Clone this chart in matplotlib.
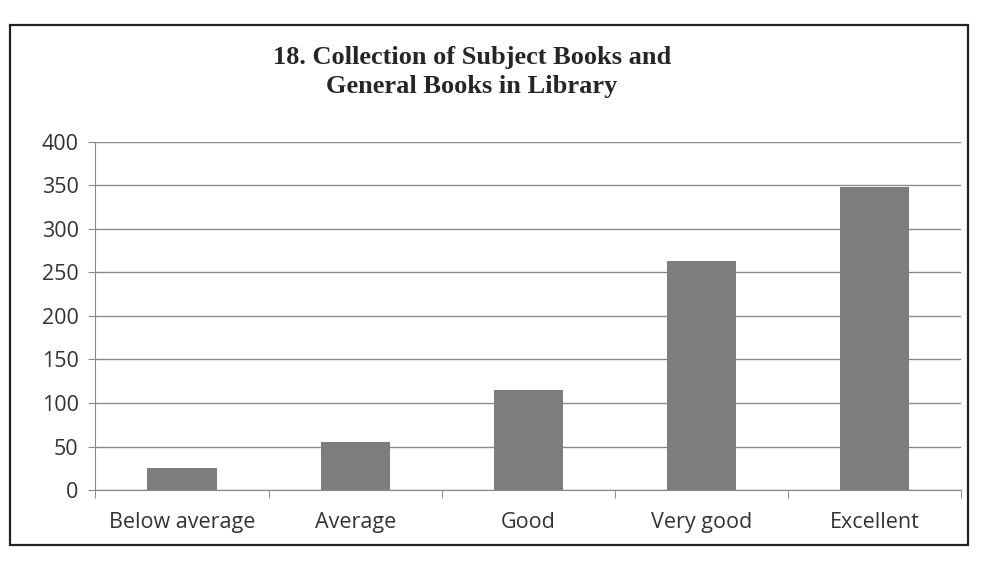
import matplotlib
matplotlib.use("Agg")
import matplotlib.pyplot as plt
from matplotlib.patches import Rectangle

categories = ["Below average", "Average", "Good", "Very good", "Excellent"]
values = [25, 55, 115, 263, 348]
y_ticks = [0, 50, 100, 150, 200, 250, 300, 350, 400]

fig = plt.figure(figsize=(9.83, 5.62), dpi=100)
fig.patch.set_facecolor("white")

# outer chart frame
fig.patches.append(Rectangle((0.01, 0.03), 0.975, 0.925, transform=fig.transFigure,
                             fill=False, edgecolor="#222222", linewidth=1.6))

ax = fig.add_axes([0.097, 0.128, 0.881, 0.62])
ax.bar(range(len(categories)), values, width=0.4, color="#7d7d7d", zorder=3)

ax.set_ylim(0, 400)
ax.set_xlim(-0.5, len(categories) - 0.5)
ax.set_yticks(y_ticks)
ax.set_yticklabels([str(v) for v in y_ticks], fontsize=15.5, family="Open Sans", color="#333333")
ax.set_xticks(range(len(categories)))
ax.set_xticklabels(categories, fontsize=15.5, family="Open Sans", color="#333333")

# category separator ticks on x axis
ax.set_xticks([i + 0.5 for i in range(-1, len(categories))], minor=True)
ax.tick_params(axis="x", which="major", length=0, pad=16)
ax.tick_params(axis="x", which="minor", length=6, color="#777777", direction="out")
ax.tick_params(axis="y", length=5, color="#888888", pad=7)

ax.grid(axis="y", color="#8a8a8a", linewidth=1.0, zorder=0)
for side in ["top", "right"]:
    ax.spines[side].set_visible(False)
ax.spines["left"].set_color("#888888")
ax.spines["bottom"].set_color("#888888")

fig.text(0.48, 0.872, "18. Collection of Subject Books and\nGeneral Books in Library",
         ha="center", va="center", fontsize=19, fontweight="bold",
         family="Liberation Serif", color="#262626", linespacing=1.3)

fig.savefig("out.png", dpi=100)
